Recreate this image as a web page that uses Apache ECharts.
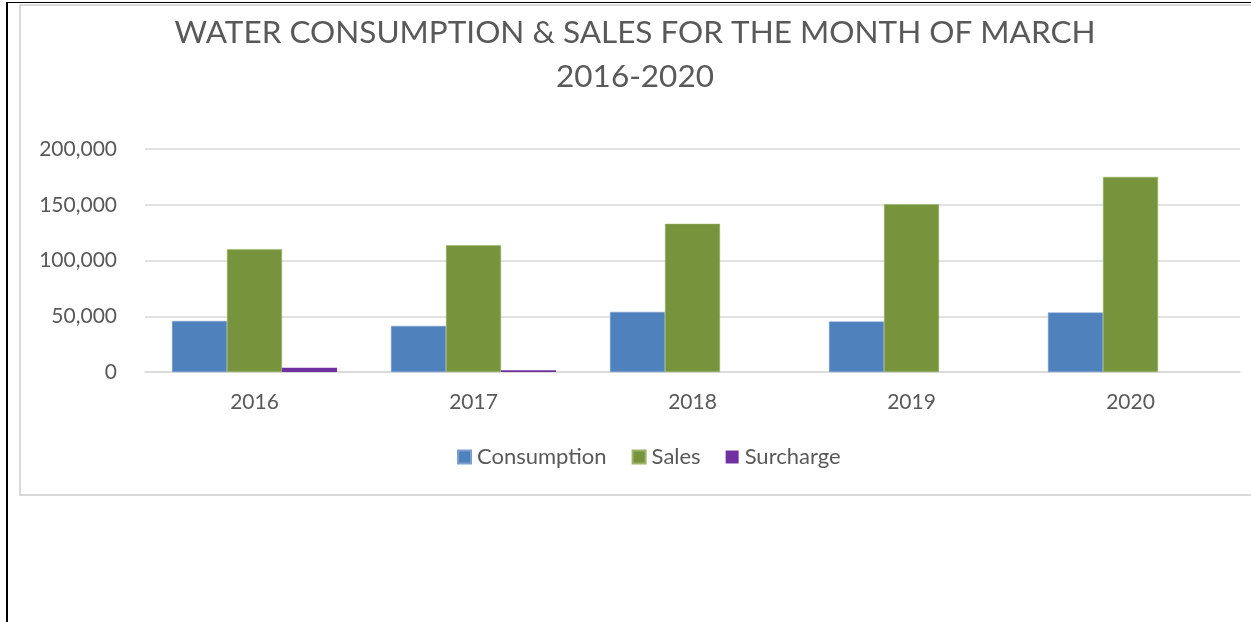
<!DOCTYPE html>
<html>
<head>
<meta charset="utf-8">
<script src="https://cdn.jsdelivr.net/npm/echarts@6/dist/echarts.min.js"></script>
<style>
	html, body { margin: 0; padding: 0; background: #fff; }
	#frame { position: absolute; left: 6px; top: 2px; width: 1260px; height: 640px; border-left: 2px solid #000; border-top: 1px solid #000; }
	#box { position: absolute; left: 19px; top: 4px; width: 1260px; height: 488px; border: 2px solid #d9d9d9; }
	#echarts { position: absolute; left: 0; top: 0; width: 1251px; height: 622px; }
</style>
</head>
<body>
<div id="frame"></div>
<div id="box"></div>
<div id="echarts"></div>
<script>
//年份
var years = ['2016', '2017', '2018', '2019', '2020'];
//用水量
var consumption = [45800, 41300, 53900, 45200, 53300];
//销售额
var sales = [110200, 113700, 132900, 150500, 175000];
//附加费
var surcharge = [3700, 1600, 0, 0, 0];
//y轴刻度
var yTicks = [0, 50000, 100000, 150000, 200000];

var fontName = 'Lato, "Open Sans", sans-serif';
var textColor = '#595959';

option = {
	backgroundColor: 'transparent',
	title: {
		text: 'WATER CONSUMPTION & SALES FOR THE MONTH OF MARCH\n2016-2020',
		left: 635,
		top: 11,
		padding: 0,
		textAlign: 'center',
		textStyle: {
			color: textColor,
			fontFamily: fontName,
			fontWeight: 'normal',
			fontSize: 31.5,
			lineHeight: 44
		}
	},
	legend: {
		top: 446,
		left: 457,
		padding: 0,
		itemWidth: 13,
		itemHeight: 13,
		itemGap: 25,
		icon: 'rect',
		textStyle: {
			color: textColor,
			fontFamily: fontName,
			fontSize: 22,
			padding: [0, 0, 0, 1]
		},
		data: ['Consumption', 'Sales', 'Surcharge']
	},
	grid: {
		left: 145,
		right: 11,
		top: 149,
		bottom: 250,
		outerBoundsMode: 'none'
	},
	xAxis: {
		type: 'category',
		data: years,
		axisLine: { lineStyle: { color: '#d9d9d9', width: 1.5 } },
		axisTick: { show: false },
		axisLabel: {
			color: textColor,
			fontFamily: fontName,
			fontSize: 21,
			margin: 20
		}
	},
	yAxis: {
		type: 'value',
		min: yTicks[0],
		max: yTicks[yTicks.length - 1],
		interval: yTicks[1] - yTicks[0],
		axisLine: { show: false },
		axisTick: { show: false },
		splitLine: { lineStyle: { color: '#d9d9d9', width: 1.5 } },
		axisLabel: {
			color: textColor,
			fontFamily: fontName,
			fontSize: 21,
			margin: 28,
			formatter: function(v) {
				return v.toLocaleString('en-US');
			}
		}
	},
	series: [{
		name: 'Consumption',
		type: 'bar',
		barWidth: 55,
		barGap: '0%',
		itemStyle: { color: '#4f81bd', borderColor: '#7a9fd0', borderWidth: 0.5 },
		data: consumption
	}, {
		name: 'Sales',
		type: 'bar',
		barWidth: 55,
		barGap: '0%',
		itemStyle: { color: '#77933c', borderColor: '#9bb46a', borderWidth: 0.5 },
		data: sales
	}, {
		name: 'Surcharge',
		type: 'bar',
		barWidth: 55,
		barGap: '0%',
		itemStyle: { color: '#7030a0' },
		data: surcharge
	}]
};
var myChart = echarts.init(document.getElementById('echarts'));
myChart.setOption(option, true);
</script>
</body>
</html>
